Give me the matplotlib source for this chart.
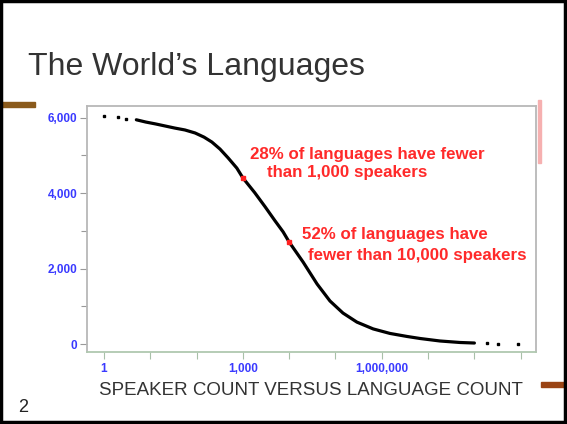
import matplotlib
matplotlib.use("Agg")
import matplotlib.pyplot as plt
from matplotlib.patches import Rectangle
from matplotlib.ticker import FixedLocator, FixedFormatter, NullFormatter

plt.rcParams['font.family'] = ['Liberation Sans', 'DejaVu Sans']

# languages with at least N speakers
head_speakers = [1, 2, 3]
head_count = [6050, 6020, 5970]
curve_speakers = [5, 8, 13, 21, 34, 56, 93, 145, 214, 320, 480, 740, 1000,
                  1800, 3000, 4900, 7400, 10000, 20000, 40000, 76000, 145000,
                  290000, 650000, 1500000, 3500000, 6800000, 18000000,
                  49000000, 100000000]
curve_count = [5940, 5880, 5830, 5775, 5720, 5670, 5590, 5480, 5350, 5165,
               4930, 4660, 4400, 4010, 3640, 3270, 2970, 2700, 2170, 1590,
               1140, 820, 580, 400, 280, 200, 145, 80, 40, 26]
tail_speakers = [190000000, 320000000, 870000000]
tail_count = [15, 8, 2]
marked_speakers = [1000, 10000]
marked_count = [4400, 2700]

y_major = [0, 2000, 4000, 6000]
y_major_labels = ["0", "2,000", "4,000", "6,000"]
y_minor = [1000, 3000, 5000]
x_ticks = [10 ** k for k in range(10)]
x_labels = ["1", "", "", "1,000", "", "", "1,000,000", "", "", ""]

title = "The World\u2019s Languages"
xlabel = "SPEAKER COUNT VERSUS LANGUAGE COUNT"
note1 = ["28% of languages have fewer", "than 1,000 speakers"]
note2 = ["52% of languages have", "fewer than 10,000 speakers"]

fig = plt.figure(figsize=(5.67, 4.24), dpi=100)
ax = fig.add_axes([0.1534, 0.1698, 0.7919, 0.5802])

ax.plot(curve_speakers, curve_count, color='black', lw=2.3, solid_capstyle='round')
ax.plot(head_speakers, head_count, 's', color='black', ms=1.6)
ax.plot(tail_speakers, tail_count, 's', color='black', ms=1.8)
ax.plot(marked_speakers, marked_count, 's', color='#ff2020', ms=2.2)

ax.set_xscale('log')
ax.set_xlim(10 ** -0.367, 10 ** 9.33)
ax.set_ylim(-212, 6305)

ax.xaxis.set_major_locator(FixedLocator(x_ticks))
ax.xaxis.set_major_formatter(FixedFormatter(x_labels))
ax.xaxis.set_minor_locator(FixedLocator([]))
ax.xaxis.set_minor_formatter(NullFormatter())
ax.yaxis.set_major_locator(FixedLocator(y_major))
ax.yaxis.set_major_formatter(FixedFormatter(y_major_labels))
ax.yaxis.set_minor_locator(FixedLocator(y_minor))

tick_blue = '#3a3aff'
ax.tick_params(axis='y', which='major', length=5, width=0.8, color='#999999',
               labelcolor=tick_blue, labelsize=8.5, pad=2)
ax.tick_params(axis='y', which='minor', length=4, width=0.8, color='#999999')
ax.tick_params(axis='x', which='major', length=5, width=0.8, color='#a8c0a8',
               labelcolor=tick_blue, labelsize=8.5, pad=3)
for lab in ax.get_xticklabels() + ax.get_yticklabels():
    lab.set_fontweight('bold')

for side in ['left', 'top', 'right']:
    ax.spines[side].set_color('#b8b8b8')
    ax.spines[side].set_linewidth(1.3)
ax.spines['bottom'].set_color('#b0c8b0')
ax.spines['bottom'].set_linewidth(1.3)

red = '#ff2a2a'
ax.text(0.363, 0.801, note1[0], transform=ax.transAxes, color=red,
        fontsize=12.2, fontweight='bold', va='center', ha='left')
ax.text(0.401, 0.728, note1[1], transform=ax.transAxes, color=red,
        fontsize=12.2, fontweight='bold', va='center', ha='left')
ax.text(0.479, 0.476, note2[0], transform=ax.transAxes, color=red,
        fontsize=12.2, fontweight='bold', va='center', ha='left')
ax.text(0.492, 0.394, note2[1], transform=ax.transAxes, color=red,
        fontsize=12.2, fontweight='bold', va='center', ha='left')

# slide furniture
fig.text(0.049, 0.842, title, fontsize=23, color='#333333', ha='left', va='center')
fig.text(0.549, 0.080, xlabel, fontsize=13.5, color='#333333', ha='center', va='center')
fig.text(0.032, 0.038, "2", fontsize=13, color='#222222', ha='left', va='center')

fig.patches.append(Rectangle((2 / 567, 1 - 107 / 424), 33 / 567, 5 / 424,
                             transform=fig.transFigure, color='#8a5a1c', zorder=3))
fig.patches.append(Rectangle((541 / 567, 1 - 387 / 424), 26 / 567, 5 / 424,
                             transform=fig.transFigure, color='#9a4414', zorder=3))
fig.patches.append(Rectangle((538 / 567, 1 - 163 / 424), 3 / 567, 63 / 424,
                             transform=fig.transFigure, color='#f6b0b0', zorder=3))
fig.patches.append(Rectangle((0.002, 0.004), 0.995, 0.993, transform=fig.transFigure,
                             fill=False, edgecolor='black', lw=2.5, zorder=4))

fig.savefig("out.png", dpi=100)
